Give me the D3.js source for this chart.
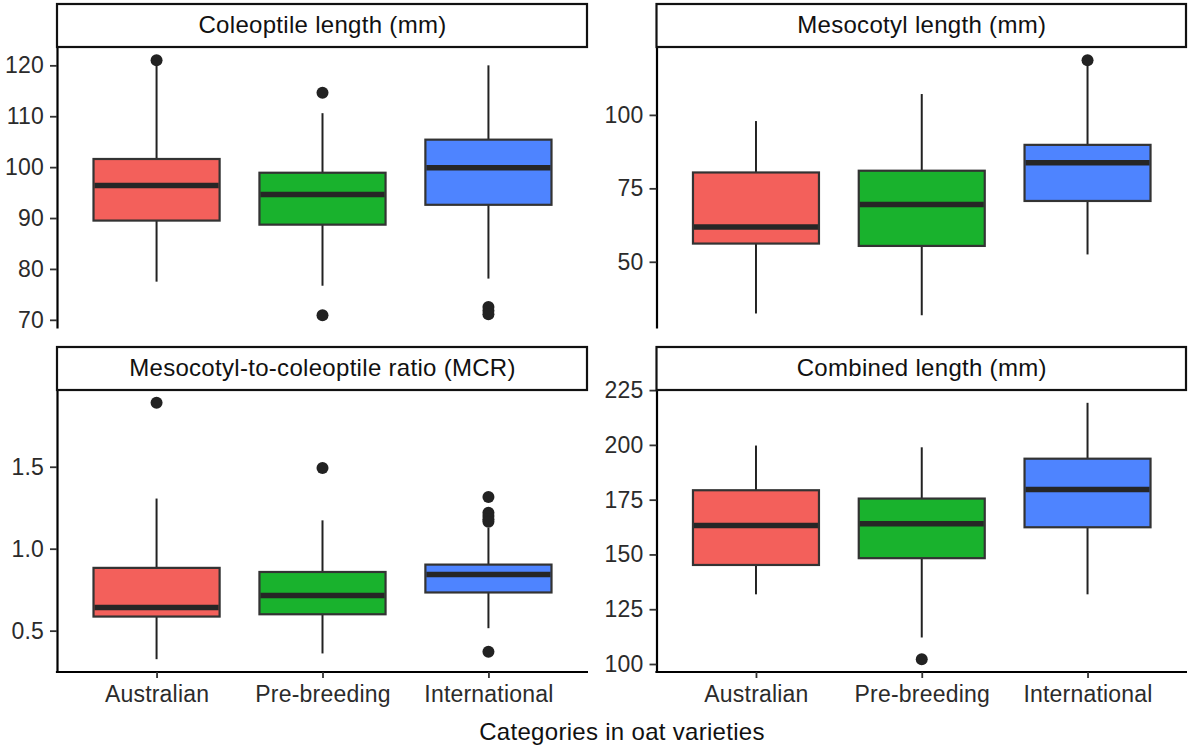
<!DOCTYPE html>
<html>
<head>
<meta charset="utf-8">
<script src="https://cdn.jsdelivr.net/npm/d3@7"></script>
<style>
  body { margin: 0; background: #fff; }
  text { font-family: "Liberation Sans", Arial, sans-serif; }
</style>
</head>
<body>
<script>
// Categories and panel titles
var categories = ["Australian", "Pre-breeding", "International"];
var panelTitles = ["Coleoptile length (mm)", "Mesocotyl length (mm)",
                   "Mesocotyl-to-coleoptile ratio (MCR)", "Combined length (mm)"];
var fillColours = ["#F3605B", "#19B22D", "#4E84FF"];

// Box stats per category: [lower whisker, Q1, median, Q3, upper whisker]
var coleoptileStats = [[77.5, 89.5, 96.4, 101.6, 120.3],
                       [76.7, 88.7, 94.6, 98.9, 110.6],
                       [78.1, 92.6, 99.9, 105.4, 120.0]];
var coleoptileOutliers = [[121.0], [114.6, 70.9], [72.5, 71.8, 71.1]];

var mesocotylStats = [[32.4, 56.2, 61.8, 80.4, 97.9],
                      [31.8, 55.4, 69.5, 81.0, 107.1],
                      [52.5, 70.7, 83.7, 89.8, 116.8]];
var mesocotylOutliers = [[], [], [118.6]];

var mcrStats = [[0.326, 0.586, 0.641, 0.883, 1.306],
                [0.361, 0.600, 0.715, 0.858, 1.173],
                [0.515, 0.733, 0.842, 0.903, 1.128]];
var mcrOutliers = [[1.89], [1.492], [1.316, 1.22, 1.20, 1.18, 1.165, 0.371]];

var combinedStats = [[131.8, 145.2, 163.2, 179.3, 199.7],
                     [112.1, 148.3, 164.0, 175.5, 198.9],
                     [131.8, 162.4, 179.6, 193.7, 219.2]];
var combinedOutliers = [[], [102.2], []];

// Tick labels
var coleoptileTicks = [70, 80, 90, 100, 110, 120];
var mesocotylTicks = [50, 75, 100];
var mcrTicks = [0.5, 1.0, 1.5];
var combinedTicks = [100, 125, 150, 175, 200, 225];

var xTitle = "Categories in oat varieties";

// Layout
var width = 1189, height = 746;
var cols = [[57, 588], [656.5, 1187]];
var rows = [{ strip: 3, top: 47.5, bottom: 328 }, { strip: 346, top: 390, bottom: 672 }];
var stripHeight = 44;

var panels = [
    { title: panelTitles[0], stats: coleoptileStats, outliers: coleoptileOutliers, ticks: coleoptileTicks, fmt: d3.format("d"), col: 0, row: 0 },
    { title: panelTitles[1], stats: mesocotylStats, outliers: mesocotylOutliers, ticks: mesocotylTicks, fmt: d3.format("d"), col: 1, row: 0 },
    { title: panelTitles[2], stats: mcrStats, outliers: mcrOutliers, ticks: mcrTicks, fmt: d3.format(".1f"), col: 0, row: 1 },
    { title: panelTitles[3], stats: combinedStats, outliers: combinedOutliers, ticks: combinedTicks, fmt: d3.format("d"), col: 1, row: 1 }
];

var svg = d3.select("body").append("svg")
    .attr("width", width)
    .attr("height", height);

panels.forEach(function (p) {
    var x0 = cols[p.col][0], x1 = cols[p.col][1], r = rows[p.row];

    // y domain from data range, expanded 5% like ggplot
    var all = [];
    p.stats.forEach(function (s) { all = all.concat(s); });
    p.outliers.forEach(function (o) { all = all.concat(o); });
    var lo = d3.min(all), hi = d3.max(all), pad = (hi - lo) * 0.05;

    var y = d3.scaleLinear()
        .domain([lo - pad, hi + pad])
        .range([r.bottom, r.top]);
    var x = d3.scalePoint()
        .domain(categories)
        .range([x0, x1])
        .padding(0.6);
    var boxW = x.step() * 0.76;

    var g = svg.append("g");

    // boxes
    var box = g.selectAll("g.box")
        .data(p.stats)
        .enter().append("g")
            .attr("class", "box");

    box.append("line")
        .attr("x1", function (d, i) { return x(categories[i]); })
        .attr("x2", function (d, i) { return x(categories[i]); })
        .attr("y1", function (d) { return y(d[0]); })
        .attr("y2", function (d) { return y(d[4]); })
        .attr("stroke", "#222")
        .attr("stroke-width", 2);

    box.append("rect")
        .attr("x", function (d, i) { return x(categories[i]) - boxW / 2; })
        .attr("y", function (d) { return y(d[3]); })
        .attr("width", boxW)
        .attr("height", function (d) { return y(d[1]) - y(d[3]); })
        .attr("fill", function (d, i) { return fillColours[i]; })
        .attr("stroke", "#333")
        .attr("stroke-width", 2.2);

    box.append("line")
        .attr("x1", function (d, i) { return x(categories[i]) - boxW / 2 + 1; })
        .attr("x2", function (d, i) { return x(categories[i]) + boxW / 2 - 1; })
        .attr("y1", function (d) { return y(d[2]); })
        .attr("y2", function (d) { return y(d[2]); })
        .attr("stroke", "#262626")
        .attr("stroke-width", 5.5);

    // outliers
    var pts = [];
    p.outliers.forEach(function (o, i) {
        o.forEach(function (v) { pts.push({ cat: categories[i], value: v }); });
    });
    g.selectAll("circle")
        .data(pts)
        .enter().append("circle")
            .attr("cx", function (d) { return x(d.cat); })
            .attr("cy", function (d) { return y(d.value); })
            .attr("r", 6)
            .attr("fill", "#222");

    // y axis
    var yAxis = g.append("g")
        .attr("transform", "translate(" + x0 + ",0)")
        .call(d3.axisLeft(y).tickValues(p.ticks).tickFormat(p.fmt).tickSize(7).tickSizeOuter(0).tickPadding(6));
    yAxis.select(".domain").attr("stroke", "#000").attr("stroke-width", 2.2);
    yAxis.selectAll(".tick line").attr("stroke", "#333").attr("stroke-width", 1.8);
    yAxis.selectAll(".tick text")
        .attr("font-family", "Liberation Sans, Arial, sans-serif")
        .attr("font-size", 23)
        .attr("letter-spacing", 0.2)
        .attr("fill", "#2b2b2b");

    // x axis only on the bottom row
    if (p.row === 1) {
        var xAxis = g.append("g")
            .attr("transform", "translate(0," + r.bottom + ")")
            .call(d3.axisBottom(x).tickSize(6).tickSizeOuter(0).tickPadding(8));
        xAxis.select(".domain").attr("d", "M" + (x0 - 1.1) + ",0H" + x1).attr("stroke", "#000").attr("stroke-width", 2.2);
        xAxis.selectAll(".tick line").attr("stroke", "#333").attr("stroke-width", 1.8);
        xAxis.selectAll(".tick text")
            .attr("font-family", "Liberation Sans, Arial, sans-serif")
            .attr("font-size", 23)
            .attr("letter-spacing", 0.2)
            .attr("fill", "#2b2b2b");
    }

    // strip
    g.append("rect")
        .attr("x", x0)
        .attr("y", r.strip + 1)
        .attr("width", x1 - x0 - 1)
        .attr("height", stripHeight - 1)
        .attr("fill", "#fff")
        .attr("stroke", "#111")
        .attr("stroke-width", 2.2);
    g.append("text")
        .attr("x", (x0 + x1) / 2)
        .attr("y", r.strip + stripHeight / 2 + 8.3)
        .attr("text-anchor", "middle")
        .attr("font-size", 24)
        .attr("letter-spacing", 0.3)
        .attr("fill", "#111")
        .text(p.title);
});

// x axis title
svg.append("text")
    .attr("x", (cols[0][0] + cols[1][1]) / 2)
    .attr("y", 739.5)
    .attr("text-anchor", "middle")
    .attr("font-size", 24)
    .attr("letter-spacing", 0.3)
    .attr("fill", "#111")
    .text(xTitle);
</script>
</body>
</html>
